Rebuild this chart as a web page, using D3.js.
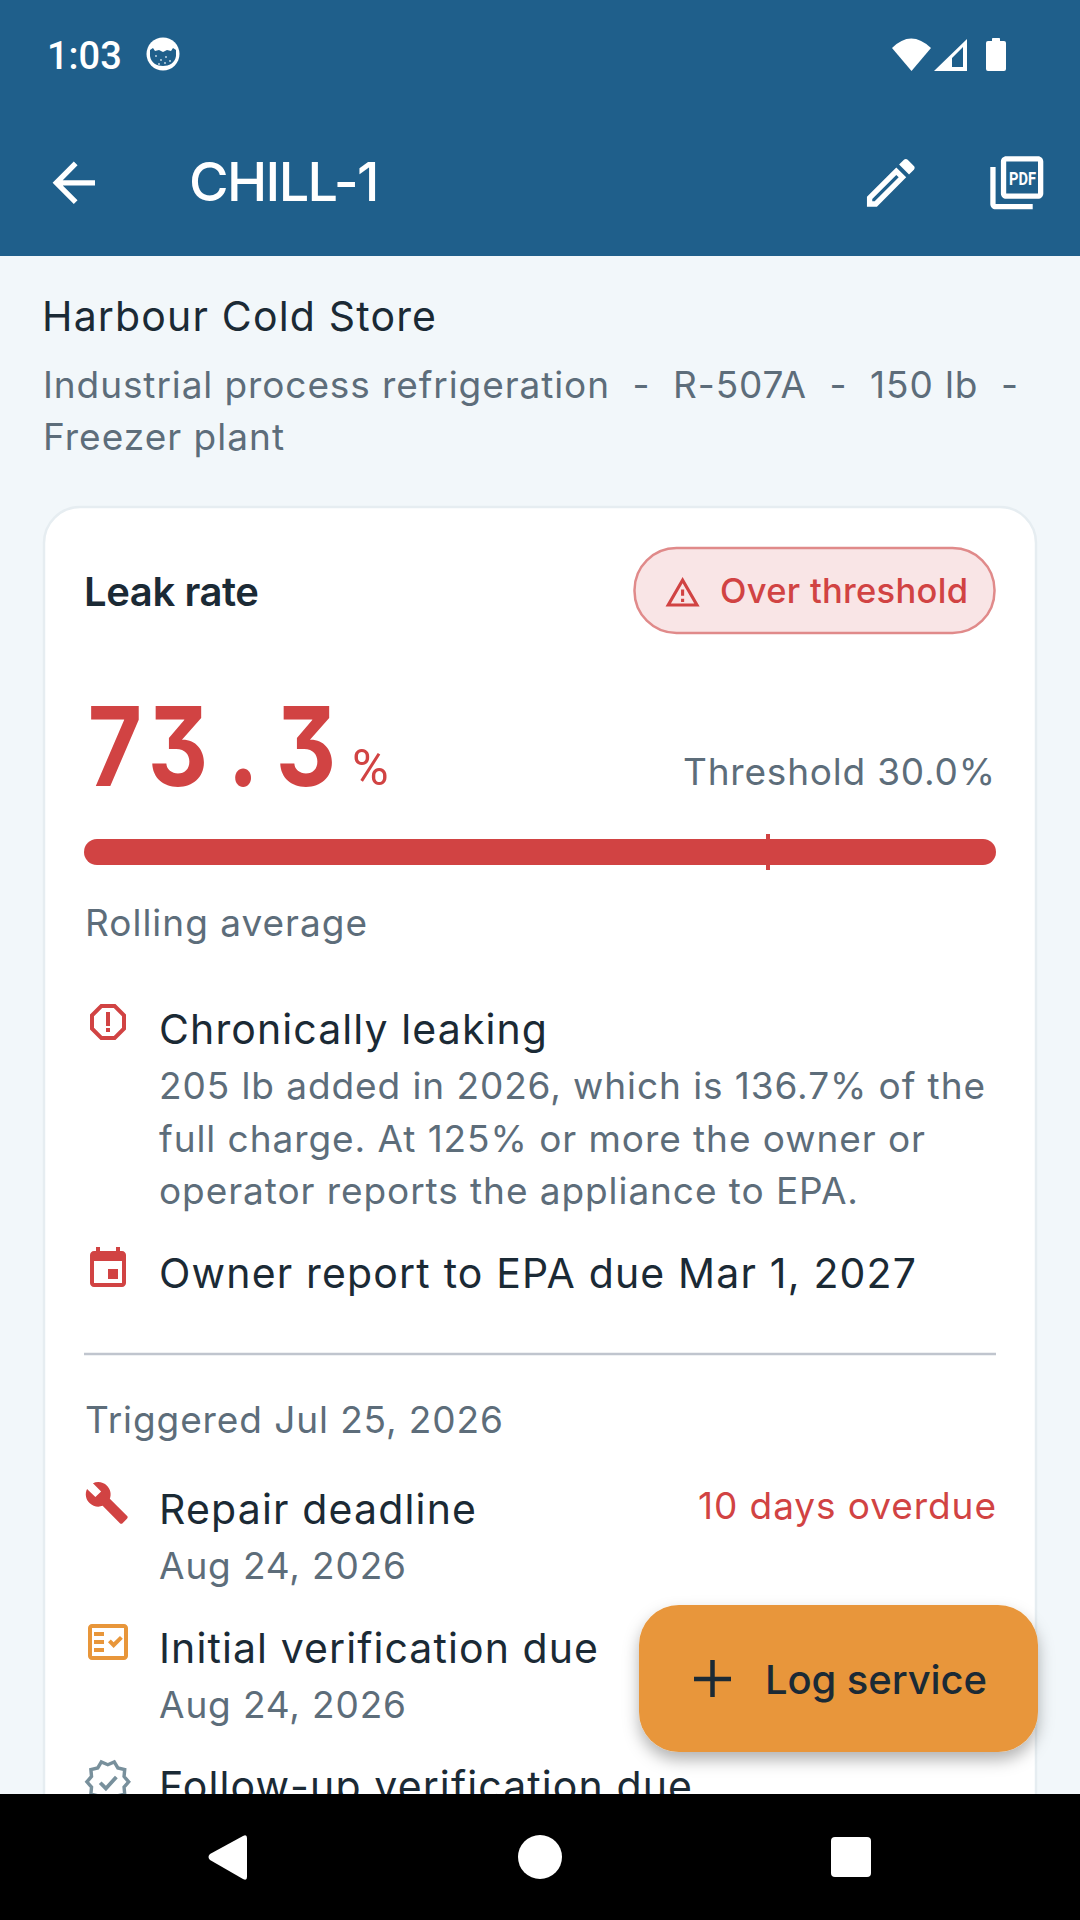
<!DOCTYPE html>
<html>
<head>
<meta charset="utf-8">
<style>
html, body { margin: 0; padding: 0; background: #f2f7fa; overflow: hidden; }
svg { display: block; }
</style>
<script src="https://cdn.jsdelivr.net/npm/d3@7"></script>
</head>
<body>
<script>
// values
const leakRate = 73.3;
const threshold = 30.0;
const gaugeDomain = [0, 40];

const clockText = "1:03";
const titleText = "CHILL-1";
const ownerName = "Harbour Cold Store";
const applianceLines = ["Industrial process refrigeration  -  R-507A  -  150 lb  -", "Freezer plant"];
const cardTitle = "Leak rate";
const badgeText = "Over threshold";
const thresholdText = "Threshold 30.0%";
const gaugeCaption = "Rolling average";
const chronicTitle = "Chronically leaking";
const chronicLines = ["205 lb added in 2026, which is 136.7% of the", "full charge. At 125% or more the owner or", "operator reports the appliance to EPA."];
const reportText = "Owner report to EPA due Mar 1, 2027";
const triggeredText = "Triggered Jul 25, 2026";
const taskNames = ["Repair deadline", "Initial verification due", "Follow-up verification due"];
const taskDates = ["Aug 24, 2026", "Aug 24, 2026"];
const overdueText = "10 days overdue";
const fabText = "Log service";

const width = 1080, height = 1920;
const blue = "#1f5f8b", red = "#d14343", ink = "#1b2a35", gray = "#5d6d7a", orange = "#e8963a";
const sans = "Inter, 'Noto Sans', sans-serif";
const body = 41, small = 37;

const svg = d3.select("body").append("svg")
    .attr("width", width)
    .attr("height", height)
    .attr("viewBox", [0, 0, width, height]);

const defs = svg.append("defs");
const shadow = defs.append("filter").attr("id", "fabShadow")
    .attr("x", "-20%").attr("y", "-20%").attr("width", "140%").attr("height", "150%");
shadow.append("feDropShadow").attr("dx", 0).attr("dy", 8).attr("stdDeviation", 8)
    .attr("flood-color", "#000").attr("flood-opacity", 0.3);

// text helper, squeezes letter spacing so the run ends up w wide
function label(str, x, y, size, fill, w, weight) {
    const t = svg.append("text")
        .attr("x", x - 2).attr("y", y)
        .attr("font-family", sans)
        .attr("font-size", size)
        .attr("font-weight", weight || 400)
        .attr("fill", fill)
        .style("white-space", "pre")
        .text(str);
    if (w) {
        const natural = t.node().getComputedTextLength();
        t.attr("letter-spacing", (w + 3 - natural) / (str.length - 1));
    }
    return t;
}

function icon(d, x, y, k, fill) {
    return svg.append("path")
        .attr("d", d)
        .attr("fill", fill)
        .attr("transform", `translate(${x},${y}) scale(${k})`);
}

// background
svg.append("rect").attr("width", width).attr("height", height).attr("fill", "#f2f7fa");

// card
svg.append("rect")
    .attr("x", 44).attr("y", 507).attr("width", 992).attr("height", 1400).attr("rx", 36)
    .attr("fill", "#fff").attr("stroke", "#e6edf1").attr("stroke-width", 2.5);

// app bar + status bar
svg.append("rect").attr("width", width).attr("height", 256).attr("fill", blue);
svg.append("text").attr("x", 47).attr("y", 69)
    .attr("font-family", "Roboto, sans-serif").attr("font-size", 38).attr("font-weight", 500)
    .attr("fill", "#fff").text(clockText);

// little cat status icon
svg.append("circle").attr("cx", 163).attr("cy", 54).attr("r", 16.5).attr("fill", "#fff");
svg.append("path")
    .attr("d", "M150 50l3-2 2 3 4-1 4 2 4-2 4 1 2-3 3 2v6c-1 7-7 10-13 10s-12-3-13-10z")
    .attr("fill", blue);
svg.selectAll(".catDot")
    .data([[156, 56], [161, 60], [166, 57], [170, 61], [159, 64], [165, 63]])
    .join("circle")
    .attr("class", "catDot")
    .attr("cx", d => d[0]).attr("cy", d => d[1]).attr("r", 0.9)
    .attr("fill", "#cfe0ea");

// wifi, signal, battery
svg.append("path").attr("d", "M892 48Q911 29 931 48L911.5 71z").attr("fill", "#fff");
svg.append("path").attr("d", "M934 71L967 39V71z M963 67V47L952 58V67z").attr("fill", "#fff").attr("fill-rule", "evenodd");
svg.append("path").attr("d", "M992 41V38.5Q992 38 993 38H999Q1000 38 1000 38.5V41H1004Q1006 41 1006 43V69Q1006 71 1004 71H988Q986 71 986 69V43Q986 41 988 41z").attr("fill", "#fff");

icon("M20 11H7.83l5.59-5.59L12 4l-8 8 8 8 1.41-1.41L7.83 13H20v-2z", 42, 151, 2.65, "#fff");
label(titleText, 191, 201, 54, "#fff", 186, 500);
icon("M14.06 9.02l.92.92L5.92 19H5v-.92l9.06-9.06M17.66 3c-.25 0-.51.1-.7.29l-1.83 1.83 3.75 3.75 1.83-1.83c.39-.39.39-1.02 0-1.41l-2.34-2.34c-.2-.2-.45-.29-.71-.29zm-3.6 3.19L3 17.25V21h3.75L17.81 9.94l-3.75-3.75z", 859, 151, 2.65, "#fff");
icon("M20 2H8c-1.1 0-2 .9-2 2v12c0 1.1.9 2 2 2h12c1.1 0 2-.9 2-2V4c0-1.1-.9-2-2-2zm0 14H8V4h12v12zM4 6H2v14c0 1.1.9 2 2 2h14v-2H4V6z", 985, 151, 2.65, "#fff");
svg.append("text").attr("x", 1009).attr("y", 185)
    .attr("font-family", "Roboto, sans-serif").attr("font-size", 18).attr("font-weight", 700)
    .attr("fill", "#fff").attr("textLength", 27).attr("lengthAdjust", "spacingAndGlyphs").text("PDF");

// header lines
label(ownerName, 44, 331, body, ink, 391);
label(applianceLines[0], 45, 398, small, gray, 972);
label(applianceLines[1], 45, 450, small, gray, 238);

// card head
label(cardTitle, 86, 606, 40, ink, 172, 600);
svg.append("rect")
    .attr("x", 634.5).attr("y", 548).attr("width", 360).attr("height", 85).attr("rx", 42)
    .attr("fill", "#f9e5e6").attr("stroke", "#e08a8a").attr("stroke-width", 2.5);
icon("M12 5.99L19.53 19H4.47L12 5.99M12 2L1 21h22L12 2zm1 14h-2v2h2v-2zm0-6h-2v4h2v-4z", 664, 574, 1.55, red);
label(badgeText, 722, 603, 34.5, red, 245, 500);

// big number, flat three and a squeezed Inter is the nearest to the mono face
const digitCenters = [115, 178, 243, 306];
const squeeze = 0.85;
svg.append("text")
    .attr("transform", `translate(0,786) scale(${squeeze},1)`)
    .attr("x", digitCenters.map(d => d / squeeze).join(" "))
    .attr("text-anchor", "middle")
    .attr("font-family", "Inter, sans-serif").attr("font-size", 110).attr("font-weight", 700)
    .style("font-feature-settings", "'cv09' 1")
    .attr("fill", red).text(leakRate.toFixed(1));
svg.append("text").attr("x", 352).attr("y", 785)
    .attr("font-family", "Roboto, sans-serif").attr("font-size", 50)
    .attr("fill", red).text("%");
label(thresholdText, 685, 785, small, gray, 309);

// gauge, clamped since the rate runs past the top of the scale
const x = d3.scaleLinear().domain(gaugeDomain).range([84, 996]).clamp(true);
svg.append("rect")
    .attr("x", x(0)).attr("y", 839).attr("height", 26).attr("rx", 13)
    .attr("width", x(leakRate) - x(0))
    .attr("fill", red);
svg.append("line")
    .attr("x1", x(threshold)).attr("x2", x(threshold))
    .attr("y1", 834).attr("y2", 870)
    .attr("stroke", red).attr("stroke-width", 4);
label(gaugeCaption, 87, 936, small, gray, 279);

// chronic block
icon("M15.73 3H8.27L3 8.27v7.46L8.27 21h7.46L21 15.73V8.27L15.73 3zM19 14.9L14.9 19H9.1L5 14.9V9.1L9.1 5h5.8L19 9.1v5.8zM11 7h2v7h-2zM11 15h2v2h-2z", 84, 998, 2, red);
label(chronicTitle, 161, 1044, body, ink, 385);
const chronicWidths = [823, 763, 696];
chronicLines.forEach((s, i) => label(s, 161, [1099, 1152, 1204][i], small, gray, chronicWidths[i]));

icon("M17 12h-5v5h5v-5zM16 1v2H8V1H6v2H5c-1.11 0-1.99.9-1.99 2L3 19c0 1.1.89 2 2 2h14c1.1 0 2-.9 2-2V5c0-1.1-.9-2-2-2h-1V1h-2zm3 18H5V8h14v11z", 84, 1245, 2, red);
label(reportText, 161, 1288, body, ink, 754);

svg.append("line").attr("x1", 84).attr("x2", 996).attr("y1", 1354).attr("y2", 1354)
    .attr("stroke", "#c0c5ce").attr("stroke-width", 2.5);
label(triggeredText, 87, 1433, small, gray, 415);

// task rows
icon("M22.7 19l-9.1-9.1c.9-2.3.4-5-1.5-6.9-2-2-5-2.4-7.4-1.3L9 6 6 9 1.6 4.7C.4 7.1.9 10.1 2.9 12.1c1.9 1.9 4.6 2.4 6.9 1.5l9.1 9.1c.4.4 1 .4 1.4 0l2.3-2.3c.5-.4.5-1.1.1-1.4z", 84, 1480, 1.9, red);
label(taskNames[0], 161, 1524, body, ink, 314);
label(overdueText, 700, 1519, small, red, 295);
label(taskDates[0], 161, 1579, small, gray, 244);

icon("M20 3H4c-1.1 0-2 .9-2 2v14c0 1.1.9 2 2 2h16c1.1 0 2-.9 2-2V5c0-1.1-.9-2-2-2zm0 16H4V5h16v14zM19.41 10.42l-1.42-1.42-3.17 3.17-1.41-1.42L12 12.16 14.82 15zM5 7h5v2H5zM5 11h5v2H5zM5 15h5v2H5z", 84, 1618, 2, orange);
label(taskNames[1], 161, 1663, body, ink, 436);
label(taskDates[1], 161, 1718, small, gray, 244);

svg.append("path")
    .attr("d", "M23 12l-2.44-2.78.34-3.68-3.61-.82-1.89-3.18L12 3 8.6 1.54 6.71 4.72l-3.61.81.34 3.68L1 12l2.44 2.78-.34 3.69 3.61.82 1.89 3.18L12 21l3.4 1.46 1.89-3.18 3.61-.82-.34-3.68L23 12z")
    .attr("transform", "translate(85,1759) scale(1.9)")
    .attr("fill", "none").attr("stroke", "#78909c").attr("stroke-width", 1.8);
svg.append("path")
    .attr("d", "M8 12.5l3 3 5.5-6")
    .attr("transform", "translate(85,1759) scale(1.9)")
    .attr("fill", "none").attr("stroke", "#78909c").attr("stroke-width", 2);
label(taskNames[2], 161, 1801, body, ink, 530);

// fab
svg.append("rect")
    .attr("x", 639).attr("y", 1605).attr("width", 399).attr("height", 147).attr("rx", 40)
    .attr("fill", orange).attr("filter", "url(#fabShadow)");
svg.append("path").attr("d", "M694 1679H731M712.5 1660V1697").attr("stroke", ink).attr("stroke-width", 4.5).attr("fill", "none");
label(fabText, 767, 1694, 40, ink, 219, 500);

// nav bar
svg.append("rect").attr("y", 1794).attr("width", width).attr("height", 126).attr("fill", "#000");
svg.append("path")
    .attr("d", "M247 1838V1877Q247 1881 243 1879L210 1860Q207 1857 210 1854L243 1836Q247 1834 247 1838z")
    .attr("fill", "#fff");
svg.append("circle").attr("cx", 540).attr("cy", 1857).attr("r", 22).attr("fill", "#fff");
svg.append("rect").attr("x", 831).attr("y", 1837).attr("width", 40).attr("height", 40).attr("rx", 4).attr("fill", "#fff");
</script>
</body>
</html>
